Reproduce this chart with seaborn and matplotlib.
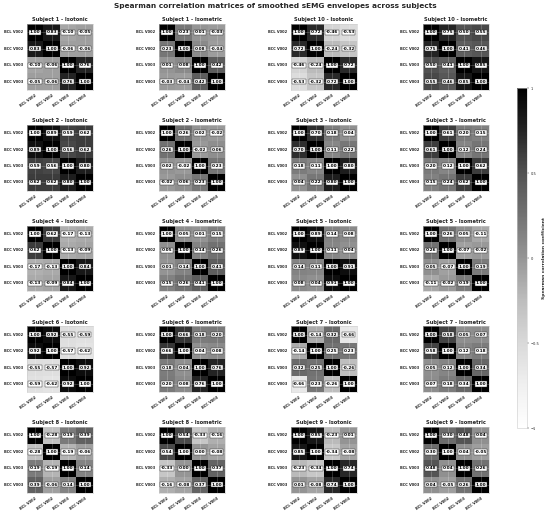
import matplotlib
matplotlib.use("Agg")
import matplotlib.pyplot as plt
import seaborn as sns
import numpy as np
import pandas as pd

# Channels in each matrix
channels = ["BCL V002", "BCC V002", "BCL V003", "BCC V003"]

# Subjects in the order they were plotted (string sort)
subjects = ["1", "10", "2", "3", "4", "5", "6", "7", "8", "9"]

# Upper-triangle values: (0,1), (0,2), (0,3), (1,2), (1,3), (2,3)
isotonic_r = [
    [0.83, -0.10, -0.05, -0.06, -0.06, 0.76],
    [0.72, -0.46, -0.53, -0.24, -0.32, 0.72],
    [0.89, 0.59, 0.62, 0.56, 0.62, 0.80],
    [0.70, 0.18, 0.04, 0.11, 0.22, 0.80],
    [0.62, -0.17, -0.13, -0.13, -0.09, 0.84],
    [0.89, 0.14, 0.08, 0.11, 0.04, 0.91],
    [0.92, -0.55, -0.59, -0.57, -0.62, 0.92],
    [-0.14, 0.32, -0.66, 0.25, 0.23, -0.26],
    [-0.28, 0.19, 0.39, -0.19, -0.06, 0.14],
    [0.85, -0.23, 0.01, -0.34, -0.08, 0.74],
]
isometric_r = [
    [0.23, 0.01, -0.03, 0.08, -0.04, 0.42],
    [0.75, 0.50, 0.55, 0.41, 0.46, 0.85],
    [0.26, 0.02, -0.02, -0.02, 0.06, 0.23],
    [0.61, 0.20, 0.15, 0.12, 0.24, 0.62],
    [0.05, 0.01, 0.15, 0.14, 0.26, 0.41],
    [0.26, 0.05, -0.11, -0.07, -0.02, 0.19],
    [0.66, 0.18, 0.20, 0.04, 0.08, 0.76],
    [0.58, 0.05, 0.07, 0.12, 0.18, 0.34],
    [0.54, -0.33, -0.16, 0.00, -0.08, 0.37],
    [0.30, 0.48, 0.04, 0.04, -0.05, 0.26],
]
conditions = ["Isotonic", "Isometric"]

cbar_ticks = [-1, -0.5, 0, 0.5, 1]
cbar_ticklabels = ["\u22121", "\u22120.5", "0", "0.5", "1"]


def to_matrix(pairs):
    """Build a symmetric correlation matrix from the upper-triangle values."""
    mat = np.eye(len(channels))
    iu = np.triu_indices(len(channels), k=1)
    mat[iu] = pairs
    mat[(iu[1], iu[0])] = pairs
    return pd.DataFrame(mat, index=channels, columns=channels)


sns.set_theme(style="whitegrid")
plt.rcParams["font.family"] = ["DejaVu Sans"]

fig, axes = plt.subplots(5, 4, figsize=(5.5, 5.12), dpi=100)
fig.subplots_adjust(left=0.049, right=0.889, top=0.953, bottom=0.037,
                    wspace=1.0, hspace=0.53)

annot_kws = {
    "size": 3.1, "weight": "bold", "color": "black",
    "bbox": dict(boxstyle="square,pad=0.15", fc="white", ec="#222222", lw=0.3),
}

for i, subj in enumerate(subjects):
    for j, (cond, data) in enumerate(zip(conditions, [isotonic_r, isometric_r])):
        k = i * 2 + j
        ax = axes.flat[k]
        df = to_matrix(data[i])
        sns.heatmap(df, ax=ax, cmap="Greys", vmin=-1, vmax=1, annot=True,
                    fmt=".2f", annot_kws=annot_kws, cbar=False, square=True,
                    xticklabels=channels, yticklabels=channels)
        ax.set_title(f"Subject {subj} - {cond}", fontsize=3.7,
                     fontweight="bold", pad=2)
        plt.setp(ax.get_xticklabels(), rotation=35, ha="right",
                 rotation_mode="anchor", fontsize=2.6, fontweight="bold")
        plt.setp(ax.get_yticklabels(), rotation=0, fontsize=2.6,
                 fontweight="bold")
        ax.tick_params(axis="both", length=1.5, width=0.3, pad=1,
                       color="#333333")
        ax.set_xlabel("")
        ax.set_ylabel("")
        # faint grid through the cell centres, drawn over the cells
        ax.set_axisbelow(False)
        ax.grid(True, color="white", alpha=0.35, linewidth=0.4)
        for sp in ax.spines.values():
            sp.set_visible(True)
            sp.set_color("#cccccc")
            sp.set_linewidth(0.4)

# Shared colorbar
cax = fig.add_axes([0.94, 0.164, 0.018, 0.664])
sm = plt.cm.ScalarMappable(cmap="Greys", norm=plt.Normalize(-1, 1))
cbar = fig.colorbar(sm, cax=cax)
cbar.set_ticks(cbar_ticks)
cbar.set_ticklabels(cbar_ticklabels)
cbar.ax.tick_params(labelsize=2.6, length=1.5, width=0.3, pad=1)
cbar.outline.set_linewidth(0.4)
cbar.set_label("Spearman correlation coefficient", fontsize=3.2,
               fontweight="bold", labelpad=2)

fig.suptitle("Spearman correlation matrices of smoothed sEMG envelopes across subjects",
             fontsize=5.3, fontweight="bold", y=0.995)

plt.savefig("out.png", dpi=100)
plt.close()
